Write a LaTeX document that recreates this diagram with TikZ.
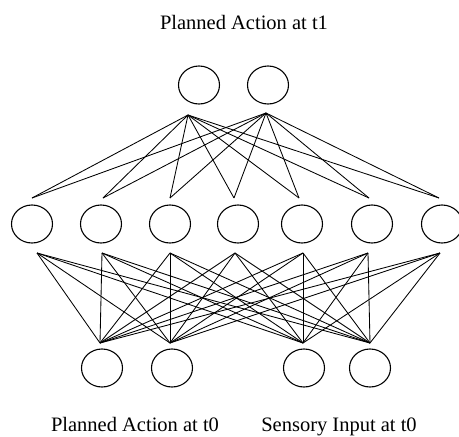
\documentclass[tikz,border=0pt]{standalone}
\usepackage{fontspec}
\setmainfont{Liberation Serif}
\usetikzlibrary{shapes.geometric}
\begin{document}
\begin{tikzpicture}[x=1pt,y=-1pt,
  unit/.style={draw, ellipse, line width=1.1pt, minimum width=41pt, minimum height=38pt, inner sep=0pt},
  link/.style={line width=0.85pt},
  lbl/.style={font=\fontsize{20.5}{24}\selectfont, inner sep=0pt, anchor=base}]
\useasboundingbox (0,0) rectangle (459,437);
% top layer
\node[unit] (t1) at (199,85) {};
\node[unit] (t2) at (268,85) {};
% middle layer
\foreach \i/\x in {1/32,2/101,3/170,4/238,5/302,6/372,7/442}
  \node[unit] (m\i) at (\x,224) {};
% bottom layer
\node[unit] (b1) at (102,368) {};
\node[unit] (b2) at (172,368) {};
\node[unit] (b3) at (304,368) {};
\node[unit] (b4) at (370,368) {};
% connection points
\coordinate (t1s) at (188,115);
\coordinate (t2s) at (266,113);
\foreach \i/\x/\y in {1/32/37,2/103/102,3/170/170,4/234/235,5/299/303,6/369/368,7/439/440}{
  \coordinate (m\i i) at (\x,198);
  \coordinate (m\i o) at (\y,253);
}
\coordinate (b1i) at (100,343);
\coordinate (b2i) at (170,343);
\coordinate (b3i) at (303,343);
\coordinate (b4i) at (370,343);
% connectors
\foreach \t in {t1s,t2s}
  \foreach \i in {1,...,7}
    \draw[link] (\t) -- (m\i i);
\foreach \i in {1,...,7}
  \foreach \b in {b1i,b2i,b3i,b4i}
    \draw[link] (m\i o) -- (\b);
% labels
\node[lbl] (lt) at (244,29) {Planned Action at t1};
\node[lbl] (lp) at (135,431) {Planned Action at t0};
\node[lbl] (ls) at (339,431) {Sensory Input at t0};
\end{tikzpicture}
\end{document}
